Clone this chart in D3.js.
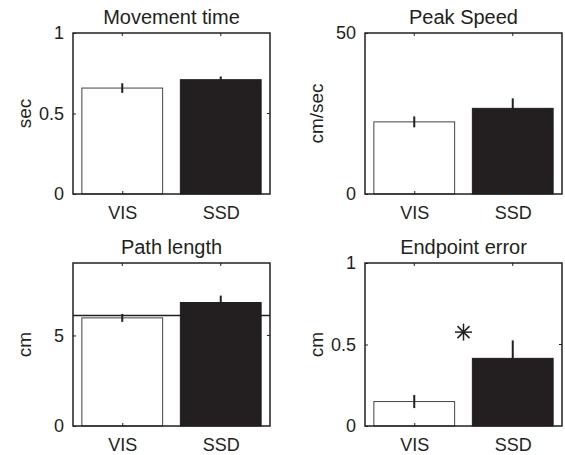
<!DOCTYPE html>
<html>
<head>
<meta charset="utf-8">
<script src="https://cdn.jsdelivr.net/npm/d3@7/dist/d3.min.js"></script>
<style>
  html, body { margin: 0; padding: 0; background: #fff; }
  svg text { font-family: "Liberation Sans", Arial, Helvetica, sans-serif; fill: #231f20; }
</style>
</head>
<body>
<div id="chart"></div>
<script>
// --- data ---
const categories = ["VIS", "SSD"];
const titles = ["Movement time", "Peak Speed", "Path length", "Endpoint error"];
const yLabels = ["sec", "cm/sec", "cm", "cm"];
const yMaxes = [1, 50, 9, 1];
const yTickValues = [[0, 0.5, 1], [0, 50], [0, 5], [0, 0.5, 1]];
const visMeans = [0.658, 22.4, 5.97, 0.15];
const visErrors = [0.03, 1.7, 0.22, 0.04];
const ssdMeans = [0.71, 26.6, 6.82, 0.415];
const ssdErrors = [0.02, 3.1, 0.38, 0.11];
const refLines = [null, null, 6.1, null];      // horizontal reference line (path length)
const starMarks = [null, null, null, { x: 1.5, y: 0.576 }];

const width = 565, height = 455;
const ink = "#231f20";

// panel boxes: column x-range and row y-range
const cols = [[73, 270], [365, 562]];
const rows = [[33, 194], [263, 426]];

const svg = d3.select("#chart").append("svg")
    .attr("width", width)
    .attr("height", height);

titles.forEach((title, i) => {
    const [x0, x1] = cols[i % 2];
    const [y0, y1] = rows[Math.floor(i / 2)];

    const x = d3.scaleLinear().domain([0.5, 2.5]).range([x0, x1]);
    const y = d3.scaleLinear().domain([0, yMaxes[i]]).range([y1, y0]);
    const g = svg.append("g");

    const bars = categories.map((c, k) => ({
        cat: c,
        pos: k + 1,
        mean: k === 0 ? visMeans[i] : ssdMeans[i],
        err: k === 0 ? visErrors[i] : ssdErrors[i]
    }));
    const bw = 0.82;

    // bars
    g.selectAll("rect.bar").data(bars).enter().append("rect")
        .attr("class", "bar")
        .attr("x", d => x(d.pos - bw / 2))
        .attr("width", d => x(d.pos + bw / 2) - x(d.pos - bw / 2))
        .attr("y", d => y(d.mean))
        .attr("height", d => y(0) - y(d.mean))
        .attr("fill", d => d.cat === "VIS" ? "#fff" : ink)
        .attr("stroke", d => d.cat === "VIS" ? "#444" : ink)
        .attr("stroke-width", 1);

    // error bars
    g.selectAll("line.err").data(bars).enter().append("line")
        .attr("class", "err")
        .attr("x1", d => x(d.pos)).attr("x2", d => x(d.pos))
        .attr("y1", d => y(d.mean - d.err)).attr("y2", d => y(d.mean + d.err))
        .attr("stroke", ink).attr("stroke-width", 2);

    // reference line
    if (refLines[i] !== null) {
        g.append("line")
            .attr("x1", x0).attr("x2", x1)
            .attr("y1", y(refLines[i])).attr("y2", y(refLines[i]))
            .attr("stroke", ink).attr("stroke-width", 1.5);
    }

    // significance star
    if (starMarks[i]) {
        const cx = x(starMarks[i].x), cy = y(starMarks[i].y), r = 8.5;
        const star = g.append("g").attr("stroke", ink).attr("stroke-width", 1.5);
        [0, 45, 90, 135].forEach(a => {
            const t = a * Math.PI / 180;
            star.append("line")
                .attr("x1", cx - r * Math.cos(t)).attr("y1", cy - r * Math.sin(t))
                .attr("x2", cx + r * Math.cos(t)).attr("y2", cy + r * Math.sin(t));
        });
    }

    // axes box
    g.append("rect")
        .attr("x", x0).attr("y", y0)
        .attr("width", x1 - x0).attr("height", y1 - y0)
        .attr("fill", "none").attr("stroke", ink).attr("stroke-width", 1.5);

    // inward ticks on the top and right edges
    g.selectAll("line.xt").data([1, 2]).enter().append("line")
        .attr("x1", d => x(d)).attr("x2", d => x(d))
        .attr("y1", y0).attr("y2", y0 + 3)
        .attr("stroke", ink).attr("stroke-width", 1);
    g.selectAll("line.yt").data(yTickValues[i].filter(v => v > 0 && v < yMaxes[i])).enter().append("line")
        .attr("x1", x1).attr("x2", x1 - 3)
        .attr("y1", d => y(d)).attr("y2", d => y(d))
        .attr("stroke", ink).attr("stroke-width", 1);

    // y axis
    const yAxis = g.append("g")
        .attr("transform", `translate(${x0},0)`)
        .call(d3.axisLeft(y).tickValues(yTickValues[i]).tickSize(-3).tickPadding(9).tickFormat(d3.format("~g")));
    yAxis.select(".domain").remove();
    yAxis.selectAll("line").attr("stroke", ink);
    yAxis.selectAll("text").style("font-size", "18px");

    // x axis
    const xAxis = g.append("g")
        .attr("transform", `translate(0,${y1})`)
        .call(d3.axisBottom(x).tickValues([1, 2]).tickSize(-3).tickPadding(12).tickFormat(d => categories[d - 1]));
    xAxis.select(".domain").remove();
    xAxis.selectAll("line").attr("stroke", ink);
    xAxis.selectAll("text").style("font-size", "18px");

    // title
    g.append("text")
        .attr("x", (x0 + x1) / 2).attr("y", y0 - 9)
        .attr("text-anchor", "middle")
        .style("font-size", "20px")
        .text(title);

    // y label
    g.append("text")
        .attr("transform", `translate(${x0 - 42},${(y0 + y1) / 2}) rotate(-90)`)
        .attr("text-anchor", "middle")
        .style("font-size", "19px")
        .text(yLabels[i]);
});
</script>
</body>
</html>
